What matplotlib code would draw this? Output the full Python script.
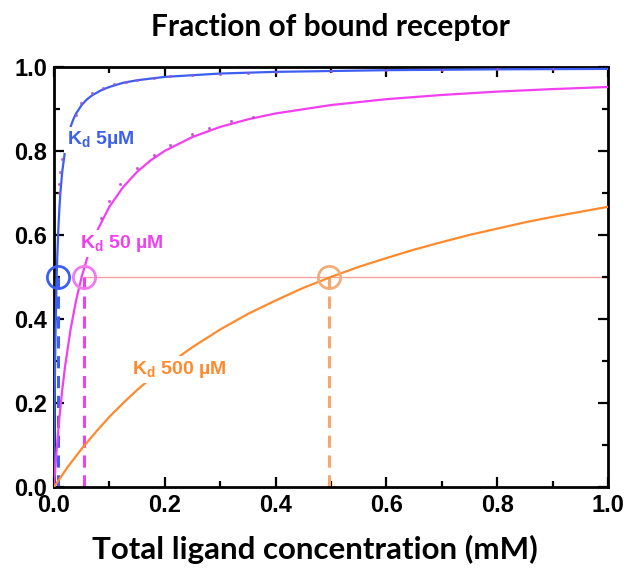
import matplotlib
matplotlib.use("Agg")
import matplotlib.pyplot as plt
from matplotlib.ticker import MultipleLocator, FormatStrFormatter

plt.rcParams["font.family"] = ["Liberation Sans", "DejaVu Sans"]
plt.rcParams["font.weight"] = "bold"
plt.rcParams["xtick.labelsize"] = 17
plt.rcParams["ytick.labelsize"] = 17

# ---- data ----
blue_x = [0, 0.001, 0.002, 0.003, 0.004, 0.005, 0.006, 0.008, 0.01, 0.012, 0.015, 0.02, 0.025, 0.03,
          0.035, 0.04, 0.05, 0.06, 0.07, 0.085, 0.1, 0.125, 0.15, 0.2, 0.25, 0.3, 0.4, 0.5, 0.6, 0.8, 1.0]
blue_y = [0, 0.167, 0.286, 0.375, 0.444, 0.5, 0.545, 0.615, 0.667, 0.706, 0.75, 0.8, 0.833, 0.857,
          0.875, 0.889, 0.909, 0.923, 0.933, 0.944, 0.952, 0.962, 0.968, 0.976, 0.98, 0.984, 0.988, 0.99, 0.992, 0.994, 0.995]

mag_x = [0, 0.005, 0.01, 0.015, 0.02, 0.03, 0.04, 0.05, 0.06, 0.07, 0.08, 0.1, 0.125, 0.15, 0.175, 0.2,
         0.25, 0.3, 0.35, 0.4, 0.5, 0.6, 0.7, 0.8, 0.9, 1.0]
mag_y = [0, 0.091, 0.167, 0.231, 0.286, 0.375, 0.444, 0.5, 0.545, 0.583, 0.615, 0.667, 0.714, 0.75,
         0.778, 0.8, 0.833, 0.857, 0.875, 0.889, 0.909, 0.923, 0.933, 0.941, 0.947, 0.952]

org_x = [0, 0.025, 0.05, 0.075, 0.1, 0.125, 0.15, 0.175, 0.2, 0.25, 0.3, 0.35, 0.4, 0.45, 0.5,
         0.55, 0.6, 0.65, 0.7, 0.75, 0.8, 0.85, 0.9, 0.95, 1.0]
org_y = [0, 0.048, 0.091, 0.13, 0.167, 0.2, 0.231, 0.259, 0.286, 0.333, 0.375, 0.412, 0.444, 0.474,
         0.5, 0.524, 0.545, 0.565, 0.583, 0.6, 0.615, 0.63, 0.643, 0.655, 0.667]

blue_dot_x = [0.009, 0.0095, 0.011, 0.014, 0.039, 0.048, 0.068, 0.088, 0.108, 0.13, 0.15, 0.18,
              0.21, 0.25, 0.3, 0.35, 0.4, 0.5, 0.6, 0.7, 0.8, 0.9]
blue_dot_y = [0.70, 0.72, 0.75, 0.78, 0.885, 0.915, 0.938, 0.95, 0.958, 0.963, 0.968, 0.973,
              0.977, 0.981, 0.984, 0.986, 0.988, 0.99, 0.992, 0.993, 0.994, 0.995]
mag_dot_x = [0.06, 0.07, 0.085, 0.1, 0.12, 0.15, 0.18, 0.21, 0.25, 0.28, 0.32, 0.36]
mag_dot_y = [0.56, 0.595, 0.64, 0.68, 0.72, 0.76, 0.79, 0.815, 0.84, 0.855, 0.87, 0.88]

kd_values = [0.008, 0.054, 0.496]      # half-saturation concentrations (mM)
half = 0.5
labels = ["5µM", "50 µM", "500 µM"]
label_pos = [(0.024, 0.826), (0.047, 0.58), (0.141, 0.28)]

c_blue = "#3d5ef2"
c_mag = "#f23ff0"
c_org = "#ff8a2e"
c_blue_c = "#3d5ef2"
c_mag_c = "#f27af0"
c_org_c = "#f5ad78"
c_hline = "#f6a3a0"

fig = plt.figure(figsize=(6.27, 5.71), dpi=100)
ax = fig.add_axes([0.086, 0.147, 0.884, 0.736])

# horizontal half-saturation line
ax.plot([kd_values[1], 1.0], [half, half], color=c_hline, lw=1.0, zorder=1)

# dashed drop lines
for kd, c in zip(kd_values, [c_blue, c_mag, "#f7a76a"]):
    ax.plot([kd, kd], [0, half], color=c, lw=2.2, ls=(0, (4, 2.5)), zorder=2)

# curves
ax.plot(blue_x, blue_y, color=c_blue, lw=1.6, zorder=3)
ax.plot(mag_x, mag_y, color=c_mag, lw=1.6, zorder=3)
ax.plot(org_x, org_y, color=c_org, lw=1.6, zorder=3)

# faint data points
ax.plot(blue_dot_x, blue_dot_y, ls="none", marker="o", ms=1.3, color="#9a55d0", alpha=0.7, zorder=4)
ax.plot(mag_dot_x, mag_dot_y, ls="none", marker="o", ms=1.3, color="#c040c8", alpha=0.7, zorder=4)

# circles
for kd, c in zip(kd_values, [c_blue_c, c_mag_c, c_org_c]):
    ax.plot([kd], [half], ls="none", marker="o", ms=16, mfc="none", mec=c, mew=2.0, zorder=5,
            clip_on=False)

# labels
for (lx, ly), lab, c in zip(label_pos, labels, [c_blue, c_mag, c_org]):
    ax.text(lx, ly, r"K$_{\mathregular{d}}$ " + lab, color=c, fontsize=14, fontweight="bold",
            va="center", ha="left", zorder=6,
            bbox=dict(boxstyle="square,pad=0.15", fc="white", ec="none"))

ax.set_xlim(0, 1.0)
ax.set_ylim(0, 1.0)
ax.xaxis.set_major_locator(MultipleLocator(0.2))
ax.xaxis.set_minor_locator(MultipleLocator(0.1))
ax.yaxis.set_major_locator(MultipleLocator(0.2))
ax.yaxis.set_minor_locator(MultipleLocator(0.1))
ax.xaxis.set_major_formatter(FormatStrFormatter("%.1f"))
ax.yaxis.set_major_formatter(FormatStrFormatter("%.1f"))
ax.tick_params(which="both", direction="in", top=True, right=True, width=1.6, color="black")
ax.tick_params(which="major", length=7, pad=5)
ax.tick_params(which="minor", length=4)
for s in ax.spines.values():
    s.set_linewidth(2.0)

fig.text(0.527, 0.953, "Fraction of bound receptor", ha="center", va="center",
         fontsize=21.5, fontweight="bold", family="Lato")
fig.text(0.502, 0.037, "Total ligand concentration (mM)", ha="center", va="center",
         fontsize=22.5, fontweight="bold", family="Lato")

fig.savefig("out.png", dpi=100)
